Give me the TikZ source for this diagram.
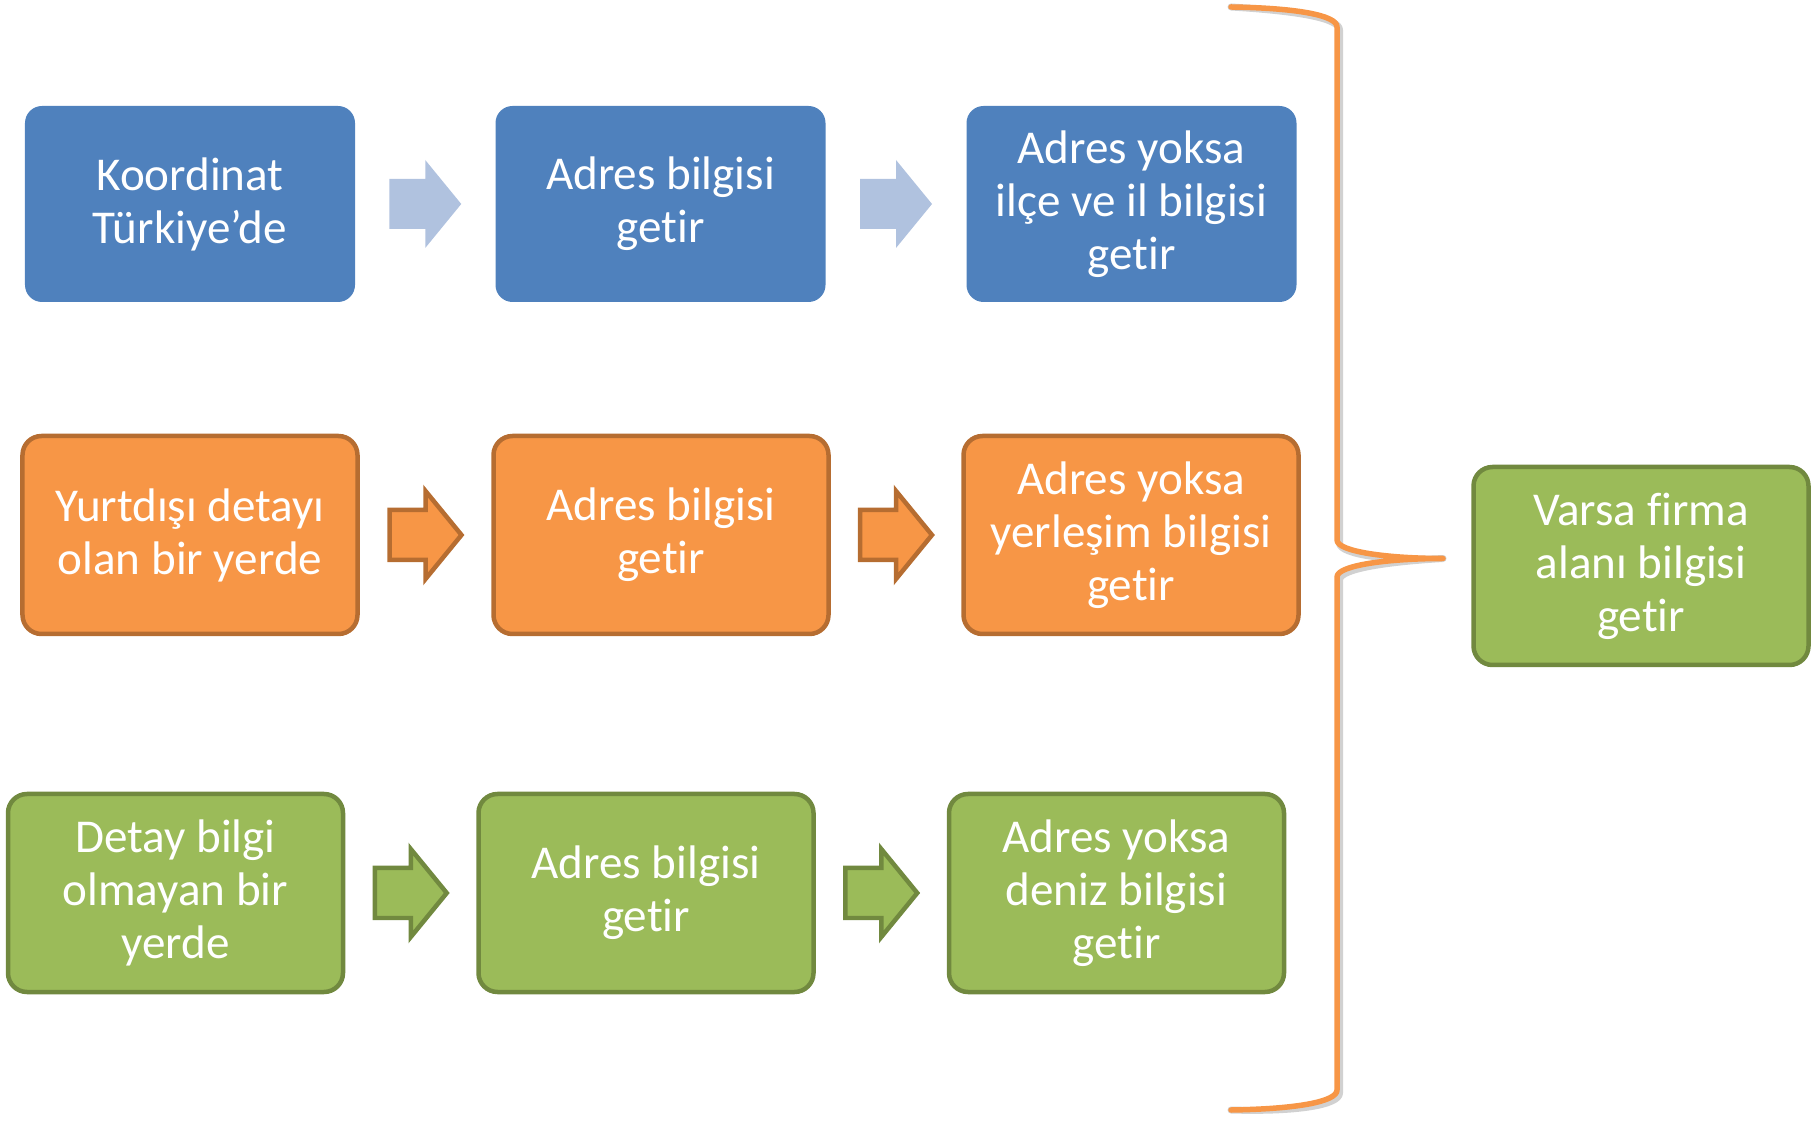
\documentclass[tikz,border=0pt]{standalone}
\usepackage{fontspec}
\setmainfont{Carlito}[Ligatures={NoCommon,NoRare}]
\usetikzlibrary{calc}
\definecolor{bluefill}{HTML}{4F81BD}
\definecolor{bluearrow}{HTML}{B0C2DF}
\definecolor{orangefill}{HTML}{F79646}
\definecolor{orangeline}{HTML}{B66D31}
\definecolor{greenfill}{HTML}{9BBB59}
\definecolor{greenline}{HTML}{71893F}
\tikzset{
  box/.style={rounded corners=0.17cm, align=center, text=white, inner sep=0pt,
    font=\fontsize{13.4}{15.1}\selectfont},
  bluebox/.style={box, fill=bluefill, minimum width=3.30cm, minimum height=1.96cm},
  orangebox/.style={box, fill=orangefill, draw=orangeline, line width=0.045cm,
    minimum width=3.35cm, minimum height=1.98cm, rounded corners=0.19cm},
  greenbox/.style={box, fill=greenfill, draw=greenline, line width=0.045cm,
    minimum width=3.35cm, minimum height=1.98cm, rounded corners=0.19cm},
  bluearr/.style={fill=bluearrow},
  orangearr/.style={fill=orangefill, draw=orangeline, line width=0.045cm},
  greenarr/.style={fill=greenfill, draw=greenline, line width=0.045cm},
  bracestyle/.style={draw=orangefill, line width=0.055cm, line cap=round, line join=round},
  braceshadow/.style={draw=black, opacity=0.18, line width=0.07cm, line cap=round, line join=round},
  blockarrow/.pic={
    \path[pic actions] (-0.36,-0.25) -- (0,-0.25) -- (0,-0.44) -- (0.36,0)
      -- (0,0.44) -- (0,0.25) -- (-0.36,0.25) -- cycle;
  }
}
\begin{document}
\begin{tikzpicture}
\useasboundingbox (0,0) rectangle (18.19,-11.21);
% row 1
\node[bluebox] (b1) at (1.90,-2.04) {Koordinat\\Türkiye’de};
\node[bluebox] (b2) at (6.605,-2.04) {Adres bilgisi\\getir};
\node[bluebox] (b3) at (11.315,-2.04) {Adres yoksa\\ilçe ve il bilgisi\\getir};
% row 2
\node[orangebox] (o1) at (1.90,-5.35) {Yurtdışı detayı\\olan bir yerde};
\node[orangebox] (o2) at (6.61,-5.35) {Adres bilgisi\\getir};
\node[orangebox] (o3) at (11.31,-5.35) {Adres yoksa\\yerleşim bilgisi\\getir};
% row 3
\node[greenbox] (g1) at (1.755,-8.93) {Detay bilgi\\olmayan bir\\yerde};
\node[greenbox] (g2) at (6.46,-8.93) {Adres bilgisi\\getir};
\node[greenbox] (g3) at (11.165,-8.93) {Adres yoksa\\deniz bilgisi\\getir};
% result
\node[greenbox] (r) at (16.41,-5.66) {Varsa firma\\alanı bilgisi\\getir};
% arrows
\pic[bluearr] at ($(b1.east)!0.5!(b2.west)$) {blockarrow};
\pic[bluearr] at ($(b2.east)!0.5!(b3.west)$) {blockarrow};
\pic[orangearr] at ($(o1.east)!0.5!(o2.west)$) {blockarrow};
\pic[orangearr] at ($(o2.east)!0.5!(o3.west)$) {blockarrow};
\pic[greenarr] at ($(g1.east)!0.5!(g2.west)$) {blockarrow};
\pic[greenarr] at ($(g2.east)!0.5!(g3.west)$) {blockarrow};
% brace
\coordinate (btop) at (12.31,-0.07);
\coordinate (btip) at (14.43,-5.585);
\coordinate (bbot) at (12.31,-11.10);
\begin{scope}[shift={(0.025,-0.03)}]
\draw[braceshadow] (btop) .. controls (12.95,-0.08) and (13.37,-0.15) .. (13.37,-0.27)
  -- (13.37,-5.40) .. controls (13.37,-5.52) and (13.9,-5.585) .. (btip)
  .. controls (13.9,-5.585) and (13.37,-5.65) .. (13.37,-5.77)
  -- (13.37,-10.90) .. controls (13.37,-11.02) and (12.95,-11.09) .. (bbot);
\end{scope}
\draw[bracestyle] (btop) .. controls (12.95,-0.08) and (13.37,-0.15) .. (13.37,-0.27)
  -- (13.37,-5.40) .. controls (13.37,-5.52) and (13.9,-5.585) .. (btip)
  .. controls (13.9,-5.585) and (13.37,-5.65) .. (13.37,-5.77)
  -- (13.37,-10.90) .. controls (13.37,-11.02) and (12.95,-11.09) .. (bbot);
\end{tikzpicture}
\end{document}
